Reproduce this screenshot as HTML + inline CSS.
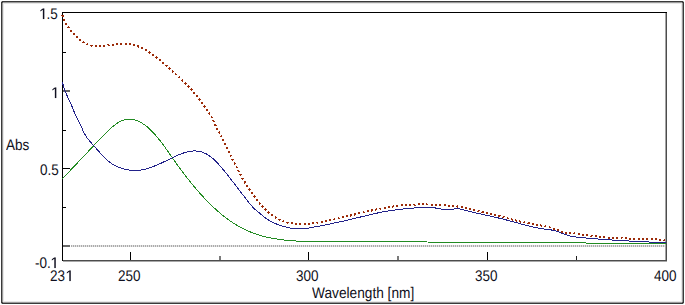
<!DOCTYPE html>
<html><head><meta charset="utf-8"><style>
html,body{margin:0;padding:0;background:#fff;}
body{width:685px;height:305px;overflow:hidden;position:relative;font-family:"Liberation Sans",sans-serif;}
svg{position:absolute;left:0;top:0;}
.t svg.one{position:relative;top:-0.2px;display:inline-block;vertical-align:baseline;}
.t{position:absolute;font-size:14px;line-height:14px;color:#101020;white-space:nowrap;text-rendering:geometricPrecision;transform:scale(0.965,1.1);transform-origin:0 0;}
</style></head><body>
<svg width="685" height="305" viewBox="0 0 685 305">
<g shape-rendering="crispEdges">
<rect x="3" y="3" width="678" height="298" fill="none" stroke="#e8e8e8" stroke-width="1" transform="translate(0.5,0.5)"/>
<path d="M3,2H682V3H3Z M3,302H682V303H3Z M2,3H3V302H2Z M682,3H683V302H682Z" fill="#9a9a9a"/>
<path d="M2,1H683V2H2Z M2,303H683V304H2Z M1,2H2V303H1Z M683,2H684V303H683Z" fill="#3a3a3a"/>
<path d="M2,2h1v1h-1Z M682,2h1v1h-1Z M2,302h1v1h-1Z M682,302h1v1h-1Z" fill="#4a4a4a"/>
<path d="M1,1h1v1h-1Z M683,1h1v1h-1Z M1,303h1v1h-1Z M683,303h1v1h-1Z" fill="#b8b8b8"/>
</g>
<line x1="71" y1="246" x2="666" y2="246" stroke="#e2e2e2" stroke-width="2"/>
<line x1="71" y1="246" x2="666" y2="246" stroke="#acacac" stroke-width="2" stroke-dasharray="1,1"/>
<g stroke="#000" stroke-width="1" shape-rendering="crispEdges">
<line x1="62" y1="12.5" x2="667" y2="12.5"/>
<line x1="62.5" y1="12" x2="62.5" y2="261"/>
<line x1="666.5" y1="13" x2="666.5" y2="261" stroke="#4c4c4c"/>
<line x1="665.5" y1="13" x2="665.5" y2="260" stroke="#a4a4a4"/>
<line x1="63" y1="260.5" x2="667" y2="260.5" stroke="#4c4c4c"/>
<line x1="63" y1="261.5" x2="667" y2="261.5" stroke="#a8a8a8"/>
<line x1="130.5" y1="260" x2="130.5" y2="252" stroke="#000" stroke-width="1"/><line x1="220" y1="260" x2="220" y2="256" stroke="#7a7a7a" stroke-width="2"/><line x1="308.5" y1="260" x2="308.5" y2="252" stroke="#000" stroke-width="1"/><line x1="398" y1="260" x2="398" y2="256" stroke="#7a7a7a" stroke-width="2"/><line x1="487.5" y1="260" x2="487.5" y2="252" stroke="#000" stroke-width="1"/><line x1="576.5" y1="260" x2="576.5" y2="256" stroke="#202020" stroke-width="1"/>
<line x1="63" y1="52.5" x2="66" y2="52.5" stroke="#000" stroke-width="1"/><line x1="63" y1="91" x2="70" y2="91" stroke="#666" stroke-width="2"/><line x1="63" y1="130.5" x2="66" y2="130.5" stroke="#000" stroke-width="1"/><line x1="63" y1="168.5" x2="70" y2="168.5" stroke="#000" stroke-width="1"/><line x1="63" y1="207.5" x2="66" y2="207.5" stroke="#000" stroke-width="1"/><line x1="63" y1="246" x2="70" y2="246" stroke="#666" stroke-width="2"/>
</g>
<g fill="none" stroke-width="1">
<path d="M62.40,178.83 L63.40,177.76 L64.40,176.69 L65.40,175.62 L66.40,174.55 L67.40,173.49 L68.40,172.43 L69.40,171.37 L70.40,170.31 L71.40,169.25 L72.40,168.19 L73.40,167.14 L74.40,166.08 L75.40,165.03 L76.40,163.98 L77.40,162.93 L78.40,161.87 L79.40,160.82 L80.40,159.77 L81.40,158.71 L82.40,157.66 L83.40,156.60 L84.40,155.54 L85.40,154.48 L86.40,153.42 L87.40,152.36 L88.40,151.30 L89.40,150.23 L90.40,149.16 L91.40,148.09 L92.40,147.02 L93.40,145.95 L94.40,144.88 L95.40,143.81 L96.40,142.75 L97.40,141.68 L98.40,140.63 L99.40,139.58 L100.40,138.53 L101.40,137.50 L102.40,136.47 L103.40,135.45 L104.40,134.44 L105.40,133.44 L106.40,132.45 L107.40,131.47 L108.40,130.51 L109.40,129.57 L110.40,128.65 L111.40,127.75 L112.40,126.89 L113.40,126.06 L114.40,125.26 L115.40,124.50 L116.40,123.78 L117.40,123.12 L118.40,122.50 L119.40,121.93 L120.40,121.43 L121.40,120.97 L122.40,120.57 L123.40,120.23 L124.40,119.94 L125.40,119.71 L126.40,119.53 L127.40,119.40 L128.40,119.32 L129.40,119.29 L130.40,119.32 L131.40,119.40 L132.40,119.52 L133.40,119.70 L134.40,119.92 L135.40,120.20 L136.40,120.52 L137.40,120.89 L138.40,121.30 L139.40,121.76 L140.40,122.27 L141.40,122.82 L142.40,123.42 L143.40,124.06 L144.40,124.75 L145.40,125.48 L146.40,126.25 L147.40,127.06 L148.40,127.92 L149.40,128.81 L150.40,129.75 L151.40,130.73 L152.40,131.74 L153.40,132.80 L154.40,133.88 L155.40,135.01 L156.40,136.16 L157.40,137.35 L158.40,138.57 L159.40,139.82 L160.40,141.09 L161.40,142.39 L162.40,143.72 L163.40,145.07 L164.40,146.45 L165.40,147.84 L166.40,149.25 L167.40,150.67 L168.40,152.10 L169.40,153.54 L170.40,154.99 L171.40,156.43 L172.40,157.87 L173.40,159.31 L174.40,160.73 L175.40,162.15 L176.40,163.55 L177.40,164.95 L178.40,166.33 L179.40,167.70 L180.40,169.06 L181.40,170.41 L182.40,171.75 L183.40,173.08 L184.40,174.39 L185.40,175.70 L186.40,176.99 L187.40,178.27 L188.40,179.54 L189.40,180.80 L190.40,182.04 L191.40,183.27 L192.40,184.50 L193.40,185.70 L194.40,186.90 L195.40,188.09 L196.40,189.26 L197.40,190.42 L198.40,191.56 L199.40,192.70 L200.40,193.82 L201.40,194.93 L202.40,196.02 L203.40,197.11 L204.40,198.18 L205.40,199.23 L206.40,200.28 L207.40,201.30 L208.40,202.32 L209.40,203.32 L210.40,204.31 L211.40,205.29 L212.40,206.25 L213.40,207.20 L214.40,208.13 L215.40,209.05 L216.40,209.96 L217.40,210.85 L218.40,211.73 L219.40,212.59 L220.40,213.44 L221.40,214.27 L222.40,215.09 L223.40,215.90 L224.40,216.69 L225.40,217.47 L226.40,218.23 L227.40,218.97 L228.40,219.70 L229.40,220.42 L230.40,221.12 L231.40,221.80 L232.40,222.47 L233.40,223.13 L234.40,223.76 L235.40,224.39 L236.40,224.99 L237.40,225.58 L238.40,226.16 L239.40,226.72 L240.40,227.27 L241.40,227.80 L242.40,228.32 L243.40,228.83 L244.40,229.32 L245.40,229.79 L246.40,230.26 L247.40,230.71 L248.40,231.14 L249.40,231.57 L250.40,231.98 L251.40,232.38 L252.40,232.77 L253.40,233.14 L254.40,233.51 L255.40,233.86 L256.40,234.20 L257.40,234.53 L258.40,234.85 L259.40,235.16 L260.40,235.46 L261.40,235.74 L262.40,236.02 L263.40,236.29 L264.40,236.55 L265.40,236.80 L266.40,237.04 L267.40,237.27 L268.40,237.49 L269.40,237.70 L270.40,237.91 L271.40,238.11 L272.40,238.30 L273.40,238.48 L274.40,238.65 L275.40,238.82 L276.40,238.98 L277.40,239.14 L278.40,239.28 L279.40,239.42 L280.40,239.56 L281.40,239.69 L282.40,239.81 L283.40,239.93 L284.40,240.04 L285.40,240.15 L286.40,240.25 L287.40,240.35 L288.40,240.44 L289.40,240.53 L290.40,240.61 L291.40,240.69 L292.40,240.77 L293.40,240.84 L294.40,240.92 L295.40,240.98 L296.40,241.05 L297.40,241.11 L298.40,241.17 L299.40,241.23 L300.40,241.29 L301.40,241.34 L302.40,241.39 L303.40,241.45 L304.40,241.50 L305.40,241.55 L306.40,241.60 L307.40,241.65 L308.40,241.69 L309.40,241.74 L310.00,241.77 L427.5,241.5 M428,242.5 L585.5,242.5 M586,243.5 L666,243.5" stroke="#228b22" shape-rendering="crispEdges"/>
<path d="M62.30,81.86 L63.30,85.61 L64.30,88.81 L65.30,91.57 L66.30,94.00 L67.30,96.19 L68.30,98.26 L69.30,100.29 L70.30,102.39 L71.30,104.67 L72.30,107.16 L73.30,109.73 L74.30,112.23 L75.30,114.54 L76.30,116.59 L77.30,118.51 L78.30,120.38 L79.30,122.32 L80.30,124.41 L81.30,126.67 L82.30,129.03 L83.30,131.32 L84.30,133.37 L85.30,135.13 L86.30,136.69 L87.30,138.12 L88.30,139.45 L89.30,140.69 L90.30,141.87 L91.30,143.01 L92.30,144.13 L93.30,145.24 L94.30,146.37 L95.30,147.50 L96.30,148.63 L97.30,149.76 L98.30,150.88 L99.30,151.99 L100.30,153.09 L101.30,154.17 L102.30,155.23 L103.30,156.27 L104.30,157.29 L105.30,158.27 L106.30,159.22 L107.30,160.14 L108.30,161.01 L109.30,161.84 L110.30,162.62 L111.30,163.36 L112.30,164.04 L113.30,164.66 L114.30,165.24 L115.30,165.77 L116.30,166.25 L117.30,166.70 L118.30,167.11 L119.30,167.49 L120.30,167.84 L121.30,168.17 L122.30,168.48 L123.30,168.76 L124.30,169.03 L125.30,169.29 L126.30,169.52 L127.30,169.73 L128.30,169.92 L129.30,170.08 L130.30,170.22 L131.30,170.34 L132.30,170.43 L133.30,170.49 L134.30,170.53 L135.30,170.53 L136.30,170.51 L137.30,170.46 L138.30,170.38 L139.30,170.27 L140.30,170.13 L141.30,169.97 L142.30,169.79 L143.30,169.58 L144.30,169.35 L145.30,169.10 L146.30,168.83 L147.30,168.54 L148.30,168.24 L149.30,167.91 L150.30,167.58 L151.30,167.22 L152.30,166.86 L153.30,166.48 L154.30,166.08 L155.30,165.68 L156.30,165.27 L157.30,164.85 L158.30,164.42 L159.30,163.98 L160.30,163.53 L161.30,163.07 L162.30,162.61 L163.30,162.14 L164.30,161.67 L165.30,161.19 L166.30,160.71 L167.30,160.22 L168.30,159.74 L169.30,159.25 L170.30,158.76 L171.30,158.28 L172.30,157.80 L173.30,157.32 L174.30,156.84 L175.30,156.38 L176.30,155.92 L177.30,155.47 L178.30,155.03 L179.30,154.61 L180.30,154.20 L181.30,153.81 L182.30,153.44 L183.30,153.08 L184.30,152.75 L185.30,152.44 L186.30,152.16 L187.30,151.90 L188.30,151.67 L189.30,151.47 L190.30,151.30 L191.30,151.16 L192.30,151.06 L193.30,151.00 L194.30,150.97 L195.30,150.98 L196.30,151.03 L197.30,151.12 L198.30,151.25 L199.30,151.43 L200.30,151.64 L201.30,151.91 L202.30,152.22 L203.30,152.57 L204.30,152.98 L205.30,153.43 L206.30,153.94 L207.30,154.50 L208.30,155.11 L209.30,155.78 L210.30,156.50 L211.30,157.27 L212.30,158.10 L213.30,158.97 L214.30,159.89 L215.30,160.85 L216.30,161.84 L217.30,162.88 L218.30,163.95 L219.30,165.05 L220.30,166.17 L221.30,167.32 L222.30,168.50 L223.30,169.69 L224.30,170.91 L225.30,172.14 L226.30,173.39 L227.30,174.66 L228.30,175.93 L229.30,177.21 L230.30,178.51 L231.30,179.80 L232.30,181.11 L233.30,182.41 L234.30,183.71 L235.30,185.01 L236.30,186.31 L237.30,187.61 L238.30,188.90 L239.30,190.20 L240.30,191.49 L241.30,192.78 L242.30,194.07 L243.30,195.36 L244.30,196.65 L245.30,197.95 L246.30,199.24 L247.30,200.53 L248.30,201.80 L249.30,203.04 L250.30,204.26 L251.30,205.44 L252.30,206.58 L253.30,207.66 L254.30,208.69 L255.30,209.65 L256.30,210.53 L257.30,211.34 L258.30,212.10 L259.30,212.87 L260.30,213.69 L261.30,214.59 L262.30,215.51 L263.30,216.40 L264.30,217.22 L265.30,217.96 L266.30,218.65 L267.30,219.30 L268.30,219.91 L269.30,220.50 L270.30,221.05 L271.30,221.59 L272.30,222.10 L273.30,222.58 L274.30,223.05 L275.30,223.49 L276.30,223.91 L277.30,224.31 L278.30,224.69 L279.30,225.05 L280.30,225.40 L281.30,225.73 L282.30,226.04 L283.30,226.34 L284.30,226.62 L285.30,226.90 L286.30,227.16 L287.30,227.40 L288.30,227.64 L289.30,227.86 L290.30,228.06 L291.30,228.24 L292.30,228.41 L293.30,228.56 L294.30,228.68 L295.30,228.79 L296.30,228.87 L297.30,228.93 L298.30,228.96 L299.30,228.97 L300.30,228.94 L301.30,228.90 L302.30,228.83 L303.30,228.74 L304.30,228.63 L305.30,228.50 L306.30,228.37 L307.30,228.22 L308.30,228.06 L309.30,227.89 L310.30,227.72 L311.30,227.54 L312.30,227.37 L313.30,227.19 L314.30,227.01 L315.30,226.82 L316.30,226.64 L317.30,226.45 L318.30,226.26 L319.30,226.07 L320.30,225.87 L321.30,225.68 L322.30,225.48 L323.30,225.28 L324.30,225.08 L325.30,224.88 L326.30,224.68 L327.30,224.48 L328.30,224.27 L329.30,224.07 L330.30,223.86 L331.30,223.66 L332.30,223.45 L333.30,223.24 L334.30,223.03 L335.30,222.82 L336.30,222.61 L337.30,222.40 L338.30,222.19 L339.30,221.97 L340.30,221.75 L341.30,221.53 L342.30,221.31 L343.30,221.09 L344.30,220.87 L345.30,220.64 L346.30,220.41 L347.30,220.18 L348.30,219.95 L349.30,219.72 L350.30,219.48 L351.30,219.24 L352.30,219.01 L353.30,218.76 L354.30,218.52 L355.30,218.28 L356.30,218.04 L357.30,217.79 L358.30,217.55 L359.30,217.30 L360.30,217.06 L361.30,216.81 L362.30,216.57 L363.30,216.32 L364.30,216.08 L365.30,215.83 L366.30,215.59 L367.30,215.35 L368.30,215.11 L369.30,214.88 L370.30,214.64 L371.30,214.41 L372.30,214.18 L373.30,213.95 L374.30,213.72 L375.30,213.50 L376.30,213.28 L377.30,213.06 L378.30,212.85 L379.30,212.64 L380.30,212.44 L381.30,212.23 L382.30,212.04 L383.30,211.84 L384.30,211.66 L385.30,211.47 L386.30,211.30 L387.30,211.12 L388.30,210.96 L389.30,210.79 L390.30,210.64 L391.30,210.49 L392.30,210.34 L393.30,210.20 L394.30,210.07 L395.30,209.94 L396.30,209.81 L397.30,209.69 L398.30,209.57 L399.30,209.46 L400.30,209.34 L401.30,209.23 L402.30,209.12 L403.30,209.02 L404.30,208.91 L405.30,208.81 L406.30,208.71 L407.30,208.61 L408.30,208.51 L409.30,208.41 L410.30,208.31 L411.30,208.22 L412.30,208.12 L413.30,208.04 L414.30,207.95 L415.30,207.87 L416.30,207.79 L417.30,207.72 L418.30,207.66 L419.30,207.60 L420.30,207.55 L421.30,207.51 L422.30,207.47 L423.30,207.45 L424.30,207.43 L425.30,207.42 L426.30,207.42 L427.30,207.44 L428.30,207.46 L429.30,207.50 L430.30,207.54 L431.30,207.60 L432.30,207.68 L433.30,207.77 L434.30,207.87 L435.30,207.98 L436.30,208.12 L437.30,208.27 L438.30,208.43 L439.30,208.61 L440.30,208.81 L441.30,209.01 L442.30,209.21 L443.30,209.40 L444.30,209.58 L445.30,209.72 L446.30,209.84 L447.30,209.91 L448.30,209.93 L449.30,209.89 L450.30,209.78 L451.30,209.61 L452.30,209.40 L453.30,209.18 L454.30,208.96 L455.30,208.79 L456.30,208.67 L457.30,208.64 L458.30,208.71 L459.30,208.85 L460.30,209.06 L461.30,209.31 L462.30,209.58 L463.30,209.85 L464.30,210.11 L465.30,210.37 L466.30,210.63 L467.30,210.88 L468.30,211.13 L469.30,211.38 L470.30,211.62 L471.30,211.86 L472.30,212.10 L473.30,212.33 L474.30,212.57 L475.30,212.80 L476.30,213.03 L477.30,213.26 L478.30,213.48 L479.30,213.71 L480.30,213.93 L481.30,214.15 L482.30,214.37 L483.30,214.60 L484.30,214.82 L485.30,215.04 L486.30,215.26 L487.30,215.48 L488.30,215.70 L489.30,215.92 L490.30,216.14 L491.30,216.36 L492.30,216.59 L493.30,216.81 L494.30,217.04 L495.30,217.27 L496.30,217.50 L497.30,217.73 L498.30,217.97 L499.30,218.20 L500.30,218.44 L501.30,218.68 L502.30,218.93 L503.30,219.18 L504.30,219.43 L505.30,219.68 L506.30,219.94 L507.30,220.20 L508.30,220.47 L509.30,220.73 L510.30,221.00 L511.30,221.27 L512.30,221.54 L513.30,221.82 L514.30,222.09 L515.30,222.36 L516.30,222.64 L517.30,222.91 L518.30,223.18 L519.30,223.46 L520.30,223.73 L521.30,224.00 L522.30,224.26 L523.30,224.53 L524.30,224.79 L525.30,225.05 L526.30,225.31 L527.30,225.56 L528.30,225.81 L529.30,226.05 L530.30,226.29 L531.30,226.53 L532.30,226.76 L533.30,226.98 L534.30,227.20 L535.30,227.41 L536.30,227.62 L537.30,227.81 L538.30,228.01 L539.30,228.19 L540.30,228.36 L541.30,228.53 L542.30,228.69 L543.30,228.84 L544.30,228.98 L545.30,229.11 L546.30,229.24 L547.30,229.37 L548.30,229.51 L549.30,229.65 L550.30,229.80 L551.30,229.96 L552.30,230.14 L553.30,230.34 L554.30,230.56 L555.30,230.80 L556.30,231.07 L557.30,231.38 L558.30,231.72 L559.30,232.10 L560.30,232.52 L561.30,232.97 L562.30,233.42 L563.30,233.84 L564.30,234.23 L565.30,234.58 L566.30,234.91 L567.30,235.21 L568.30,235.49 L569.30,235.75 L570.30,235.98 L571.30,236.19 L572.30,236.38 L573.30,236.56 L574.30,236.72 L575.30,236.87 L576.30,237.01 L577.30,237.13 L578.30,237.25 L579.30,237.36 L580.30,237.46 L581.30,237.56 L582.30,237.65 L583.30,237.75 L584.30,237.84 L585.30,237.93 L586.30,238.02 L587.30,238.11 L588.30,238.20 L589.30,238.29 L590.30,238.38 L591.30,238.46 L592.30,238.55 L593.30,238.63 L594.30,238.71 L595.30,238.79 L596.30,238.87 L597.30,238.95 L598.30,239.03 L599.30,239.11 L600.30,239.18 L601.30,239.26 L602.30,239.33 L603.30,239.40 L604.30,239.48 L605.30,239.55 L606.30,239.62 L607.30,239.69 L608.30,239.76 L609.30,239.82 L610.30,239.89 L611.30,239.96 L612.30,240.02 L613.30,240.09 L614.30,240.15 L615.30,240.22 L616.30,240.28 L617.30,240.34 L618.30,240.40 L619.30,240.46 L620.30,240.52 L621.30,240.58 L622.30,240.64 L623.30,240.70 L624.30,240.75 L625.30,240.81 L626.30,240.87 L627.30,240.92 L628.30,240.98 L629.30,241.03 L630.30,241.08 L631.30,241.14 L632.30,241.19 L633.30,241.24 L634.30,241.29 L635.30,241.34 L636.30,241.39 L637.30,241.44 L638.30,241.49 L639.30,241.54 L640.30,241.59 L641.30,241.64 L642.30,241.69 L643.30,241.74 L644.30,241.79 L645.30,241.83 L646.30,241.88 L647.30,241.93 L648.30,241.97 L649.30,242.02 L650.30,242.06 L651.30,242.11 L652.30,242.16 L653.30,242.20 L654.30,242.25 L655.30,242.29 L656.30,242.34 L657.30,242.38 L658.30,242.42 L659.30,242.47 L660.30,242.51 L661.30,242.56 L662.30,242.60 L663.30,242.64 L664.30,242.69 L665.30,242.73 L666.00,242.76" stroke="#22228a" shape-rendering="crispEdges"/>
<path d="M62.30,14.89 L63.30,17.52 L64.30,20.19 L65.30,22.56 L66.30,24.41 L67.30,25.86 L68.30,27.15 L69.30,28.42 L70.30,29.68 L71.30,30.92 L72.30,32.13 L73.30,33.31 L74.30,34.44 L75.30,35.53 L76.30,36.56 L77.30,37.54 L78.30,38.45 L79.30,39.31 L80.30,40.11 L81.30,40.85 L82.30,41.54 L83.30,42.18 L84.30,42.77 L85.30,43.31 L86.30,43.80 L87.30,44.24 L88.30,44.64 L89.30,44.99 L90.30,45.30 L91.30,45.57 L92.30,45.80 L93.30,45.98 L94.30,46.13 L95.30,46.24 L96.30,46.32 L97.30,46.37 L98.30,46.38 L99.30,46.37 L100.30,46.33 L101.30,46.26 L102.30,46.18 L103.30,46.08 L104.30,45.96 L105.30,45.83 L106.30,45.69 L107.30,45.54 L108.30,45.38 L109.30,45.22 L110.30,45.06 L111.30,44.90 L112.30,44.74 L113.30,44.58 L114.30,44.44 L115.30,44.31 L116.30,44.19 L117.30,44.08 L118.30,43.98 L119.30,43.91 L120.30,43.84 L121.30,43.80 L122.30,43.77 L123.30,43.76 L124.30,43.77 L125.30,43.80 L126.30,43.86 L127.30,43.93 L128.30,44.03 L129.30,44.15 L130.30,44.29 L131.30,44.46 L132.30,44.66 L133.30,44.88 L134.30,45.13 L135.30,45.41 L136.30,45.72 L137.30,46.06 L138.30,46.42 L139.30,46.82 L140.30,47.25 L141.30,47.70 L142.30,48.18 L143.30,48.68 L144.30,49.21 L145.30,49.77 L146.30,50.34 L147.30,50.95 L148.30,51.57 L149.30,52.21 L150.30,52.88 L151.30,53.56 L152.30,54.27 L153.30,54.99 L154.30,55.73 L155.30,56.49 L156.30,57.27 L157.30,58.06 L158.30,58.86 L159.30,59.68 L160.30,60.51 L161.30,61.35 L162.30,62.21 L163.30,63.07 L164.30,63.94 L165.30,64.82 L166.30,65.71 L167.30,66.60 L168.30,67.50 L169.30,68.39 L170.30,69.29 L171.30,70.19 L172.30,71.09 L173.30,71.99 L174.30,72.88 L175.30,73.78 L176.30,74.67 L177.30,75.56 L178.30,76.45 L179.30,77.36 L180.30,78.26 L181.30,79.18 L182.30,80.11 L183.30,81.06 L184.30,82.02 L185.30,83.00 L186.30,84.00 L187.30,85.03 L188.30,86.08 L189.30,87.16 L190.30,88.27 L191.30,89.40 L192.30,90.57 L193.30,91.76 L194.30,92.98 L195.30,94.22 L196.30,95.48 L197.30,96.77 L198.30,98.07 L199.30,99.40 L200.30,100.74 L201.30,102.10 L202.30,103.47 L203.30,104.86 L204.30,106.26 L205.30,107.69 L206.30,109.13 L207.30,110.60 L208.30,112.09 L209.30,113.62 L210.30,115.17 L211.30,116.79 L212.30,118.54 L213.30,120.51 L214.30,122.78 L215.30,125.24 L216.30,127.43 L217.30,129.32 L218.30,131.03 L219.30,132.70 L220.30,134.47 L221.30,136.37 L222.30,138.35 L223.30,140.38 L224.30,142.44 L225.30,144.51 L226.30,146.58 L227.30,148.65 L228.30,150.71 L229.30,152.77 L230.30,154.81 L231.30,156.85 L232.30,158.86 L233.30,160.87 L234.30,162.86 L235.30,164.82 L236.30,166.77 L237.30,168.70 L238.30,170.60 L239.30,172.47 L240.30,174.32 L241.30,176.13 L242.30,177.92 L243.30,179.66 L244.30,181.38 L245.30,183.06 L246.30,184.69 L247.30,186.29 L248.30,187.86 L249.30,189.38 L250.30,190.87 L251.30,192.32 L252.30,193.74 L253.30,195.13 L254.30,196.48 L255.30,197.79 L256.30,199.08 L257.30,200.33 L258.30,201.55 L259.30,202.75 L260.30,203.91 L261.30,205.04 L262.30,206.14 L263.30,207.22 L264.30,208.26 L265.30,209.27 L266.30,210.25 L267.30,211.19 L268.30,212.10 L269.30,212.97 L270.30,213.81 L271.30,214.62 L272.30,215.38 L273.30,216.11 L274.30,216.80 L275.30,217.45 L276.30,218.07 L277.30,218.64 L278.30,219.18 L279.30,219.68 L280.30,220.14 L281.30,220.57 L282.30,220.97 L283.30,221.34 L284.30,221.68 L285.30,221.99 L286.30,222.27 L287.30,222.53 L288.30,222.76 L289.30,222.97 L290.30,223.15 L291.30,223.32 L292.30,223.46 L293.30,223.59 L294.30,223.69 L295.30,223.79 L296.30,223.86 L297.30,223.92 L298.30,223.97 L299.30,224.00 L300.30,224.02 L301.30,224.03 L302.30,224.02 L303.30,224.00 L304.30,223.97 L305.30,223.92 L306.30,223.87 L307.30,223.80 L308.30,223.73 L309.30,223.64 L310.30,223.55 L311.30,223.45 L312.30,223.33 L313.30,223.21 L314.30,223.09 L315.30,222.95 L316.30,222.81 L317.30,222.66 L318.30,222.51 L319.30,222.35 L320.30,222.18 L321.30,222.01 L322.30,221.83 L323.30,221.65 L324.30,221.46 L325.30,221.27 L326.30,221.08 L327.30,220.88 L328.30,220.67 L329.30,220.46 L330.30,220.25 L331.30,220.04 L332.30,219.82 L333.30,219.59 L334.30,219.37 L335.30,219.14 L336.30,218.91 L337.30,218.68 L338.30,218.44 L339.30,218.21 L340.30,217.97 L341.30,217.73 L342.30,217.49 L343.30,217.25 L344.30,217.00 L345.30,216.76 L346.30,216.52 L347.30,216.27 L348.30,216.03 L349.30,215.78 L350.30,215.53 L351.30,215.29 L352.30,215.04 L353.30,214.80 L354.30,214.55 L355.30,214.30 L356.30,214.06 L357.30,213.82 L358.30,213.57 L359.30,213.33 L360.30,213.09 L361.30,212.85 L362.30,212.61 L363.30,212.37 L364.30,212.14 L365.30,211.90 L366.30,211.67 L367.30,211.44 L368.30,211.21 L369.30,210.98 L370.30,210.76 L371.30,210.54 L372.30,210.32 L373.30,210.10 L374.30,209.88 L375.30,209.67 L376.30,209.46 L377.30,209.26 L378.30,209.05 L379.30,208.85 L380.30,208.66 L381.30,208.46 L382.30,208.27 L383.30,208.08 L384.30,207.90 L385.30,207.72 L386.30,207.55 L387.30,207.37 L388.30,207.21 L389.30,207.04 L390.30,206.88 L391.30,206.73 L392.30,206.58 L393.30,206.43 L394.30,206.29 L395.30,206.16 L396.30,206.03 L397.30,205.90 L398.30,205.78 L399.30,205.66 L400.30,205.55 L401.30,205.45 L402.30,205.35 L403.30,205.25 L404.30,205.17 L405.30,205.08 L406.30,205.01 L407.30,204.93 L408.30,204.87 L409.30,204.81 L410.30,204.75 L411.30,204.70 L412.30,204.65 L413.30,204.61 L414.30,204.57 L415.30,204.54 L416.30,204.52 L417.30,204.49 L418.30,204.48 L419.30,204.46 L420.30,204.45 L421.30,204.45 L422.30,204.45 L423.30,204.45 L424.30,204.46 L425.30,204.47 L426.30,204.48 L427.30,204.50 L428.30,204.52 L429.30,204.55 L430.30,204.58 L431.30,204.61 L432.30,204.65 L433.30,204.68 L434.30,204.73 L435.30,204.77 L436.30,204.82 L437.30,204.87 L438.30,204.92 L439.30,204.98 L440.30,205.04 L441.30,205.10 L442.30,205.17 L443.30,205.23 L444.30,205.30 L445.30,205.37 L446.30,205.44 L447.30,205.52 L448.30,205.60 L449.30,205.67 L450.30,205.76 L451.30,205.84 L452.30,205.93 L453.30,206.03 L454.30,206.13 L455.30,206.24 L456.30,206.36 L457.30,206.49 L458.30,206.64 L459.30,206.79 L460.30,206.97 L461.30,207.15 L462.30,207.36 L463.30,207.58 L464.30,207.81 L465.30,208.05 L466.30,208.29 L467.30,208.54 L468.30,208.79 L469.30,209.03 L470.30,209.28 L471.30,209.52 L472.30,209.75 L473.30,209.98 L474.30,210.21 L475.30,210.44 L476.30,210.66 L477.30,210.88 L478.30,211.10 L479.30,211.32 L480.30,211.54 L481.30,211.76 L482.30,211.98 L483.30,212.20 L484.30,212.43 L485.30,212.65 L486.30,212.88 L487.30,213.10 L488.30,213.34 L489.30,213.57 L490.30,213.81 L491.30,214.06 L492.30,214.31 L493.30,214.56 L494.30,214.81 L495.30,215.07 L496.30,215.33 L497.30,215.60 L498.30,215.86 L499.30,216.13 L500.30,216.40 L501.30,216.67 L502.30,216.94 L503.30,217.21 L504.30,217.48 L505.30,217.75 L506.30,218.02 L507.30,218.28 L508.30,218.55 L509.30,218.82 L510.30,219.08 L511.30,219.34 L512.30,219.60 L513.30,219.85 L514.30,220.10 L515.30,220.35 L516.30,220.60 L517.30,220.84 L518.30,221.07 L519.30,221.31 L520.30,221.54 L521.30,221.76 L522.30,221.98 L523.30,222.20 L524.30,222.42 L525.30,222.63 L526.30,222.84 L527.30,223.04 L528.30,223.24 L529.30,223.44 L530.30,223.64 L531.30,223.83 L532.30,224.02 L533.30,224.20 L534.30,224.38 L535.30,224.56 L536.30,224.74 L537.30,224.91 L538.30,225.09 L539.30,225.26 L540.30,225.44 L541.30,225.62 L542.30,225.80 L543.30,225.99 L544.30,226.19 L545.30,226.40 L546.30,226.62 L547.30,226.84 L548.30,227.09 L549.30,227.34 L550.30,227.61 L551.30,227.90 L552.30,228.21 L553.30,228.53 L554.30,228.88 L555.30,229.25 L556.30,229.64 L557.30,230.06 L558.30,230.49 L559.30,230.91 L560.30,231.32 L561.30,231.71 L562.30,232.05 L563.30,232.33 L564.30,232.55 L565.30,232.68 L566.30,232.75 L567.30,232.78 L568.30,232.81 L569.30,232.85 L570.30,232.93 L571.30,233.03 L572.30,233.15 L573.30,233.29 L574.30,233.45 L575.30,233.61 L576.30,233.77 L577.30,233.94 L578.30,234.10 L579.30,234.26 L580.30,234.41 L581.30,234.56 L582.30,234.71 L583.30,234.85 L584.30,235.00 L585.30,235.13 L586.30,235.27 L587.30,235.40 L588.30,235.53 L589.30,235.66 L590.30,235.78 L591.30,235.90 L592.30,236.02 L593.30,236.13 L594.30,236.25 L595.30,236.35 L596.30,236.46 L597.30,236.56 L598.30,236.66 L599.30,236.76 L600.30,236.86 L601.30,236.95 L602.30,237.04 L603.30,237.13 L604.30,237.21 L605.30,237.29 L606.30,237.37 L607.30,237.45 L608.30,237.52 L609.30,237.59 L610.30,237.66 L611.30,237.73 L612.30,237.79 L613.30,237.86 L614.30,237.92 L615.30,237.97 L616.30,238.03 L617.30,238.08 L618.30,238.13 L619.30,238.18 L620.30,238.23 L621.30,238.27 L622.30,238.31 L623.30,238.35 L624.30,238.39 L625.30,238.43 L626.30,238.46 L627.30,238.49 L628.30,238.53 L629.30,238.56 L630.30,238.58 L631.30,238.61 L632.30,238.64 L633.30,238.67 L634.30,238.69 L635.30,238.72 L636.30,238.75 L637.30,238.77 L638.30,238.80 L639.30,238.83 L640.30,238.85 L641.30,238.88 L642.30,238.91 L643.30,238.94 L644.30,238.97 L645.30,239.00 L646.30,239.04 L647.30,239.07 L648.30,239.11 L649.30,239.15 L650.30,239.19 L651.30,239.23 L652.30,239.28 L653.30,239.33 L654.30,239.38 L655.30,239.43 L656.30,239.49 L657.30,239.55 L658.30,239.61 L659.30,239.68 L660.30,239.75 L661.30,239.83 L662.30,239.91 L663.30,239.99 L664.30,240.08 L665.00,240.14" stroke="#9c2c0a" stroke-width="2" stroke-dasharray="2,2.3" shape-rendering="crispEdges"/>
</g>

</svg>
<div class="t" style="left:39.2px;top:6.0px"><svg class="one" width="7.786" height="9.95" viewBox="0 -1409 1139 1409" preserveAspectRatio="none"><path d="M585,0 V-1200 L210,-985 V-1160 L610,-1409 H810 V0 Z" fill="#101020"/></svg>.5</div>
<div class="t" style="left:51.4px;top:84.7px"><svg class="one" width="7.786" height="9.95" viewBox="0 -1409 1139 1409" preserveAspectRatio="none"><path d="M585,0 V-1200 L210,-985 V-1160 L610,-1409 H810 V0 Z" fill="#101020"/></svg></div>
<div class="t" style="left:39.9px;top:161.8px">0.5</div>
<div class="t" style="left:34.8px;top:255.0px">-0.<svg class="one" width="7.786" height="9.95" viewBox="0 -1409 1139 1409" preserveAspectRatio="none"><path d="M585,0 V-1200 L210,-985 V-1160 L610,-1409 H810 V0 Z" fill="#101020"/></svg></div>
<div class="t" style="left:6.4px;top:136.7px">Abs</div>
<div class="t" style="left:49.8px;top:267.6px">23<svg class="one" width="7.786" height="9.95" viewBox="0 -1409 1139 1409" preserveAspectRatio="none"><path d="M585,0 V-1200 L210,-985 V-1160 L610,-1409 H810 V0 Z" fill="#101020"/></svg></div>
<div class="t" style="left:117.9px;top:267.6px">250</div>
<div class="t" style="left:296.1px;top:267.6px">300</div>
<div class="t" style="left:474.9px;top:267.6px">350</div>
<div class="t" style="left:653.8px;top:267.6px">400</div>
<div class="t" style="left:311.6px;top:284.5px;transform:scale(0.978,1.1)">Wavelength [nm]</div>
</body></html>
